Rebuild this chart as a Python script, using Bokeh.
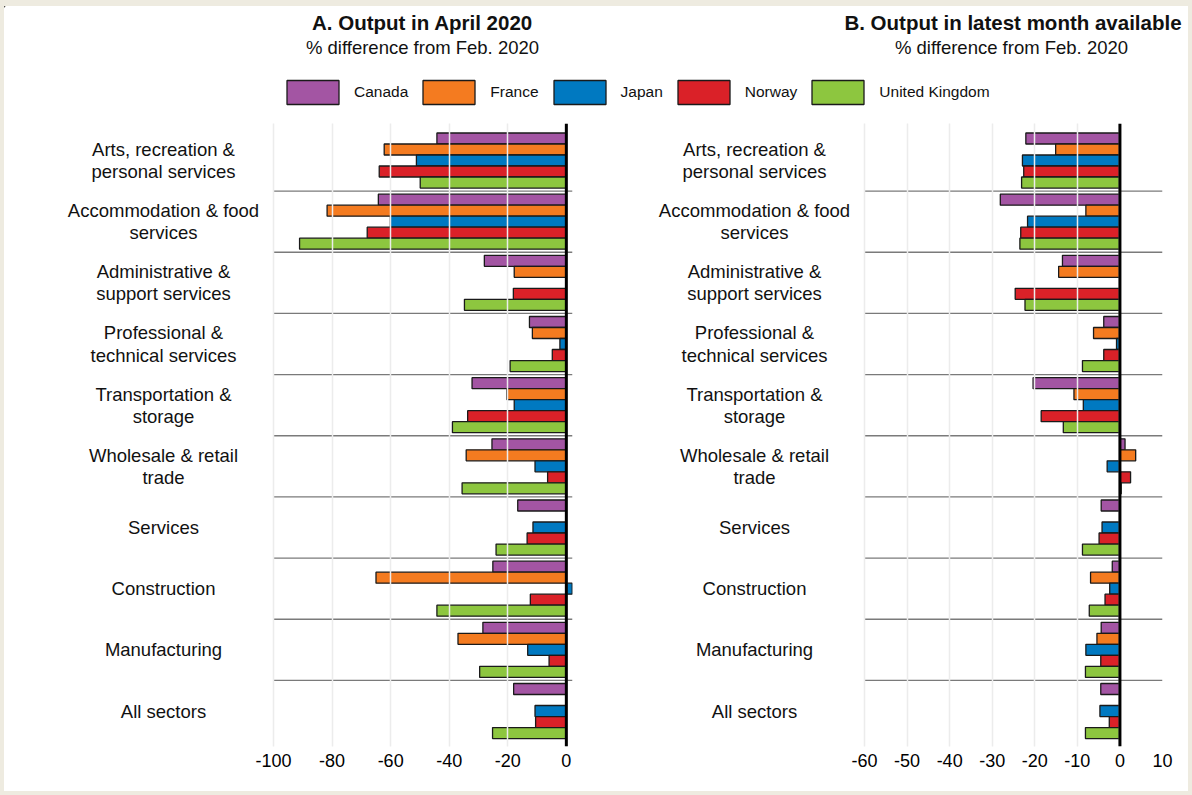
from bokeh.plotting import figure
from bokeh.models import Range1d, FixedTicker, Span, Legend, LegendItem, Spacer
from bokeh.layouts import column, row
from bokeh.embed import file_html
from bokeh.resources import INLINE
from bokeh.core.properties import value

# ---------------- data ----------------
sectors = [
    "Arts, recreation &\npersonal services",
    "Accommodation & food\nservices",
    "Administrative &\nsupport services",
    "Professional &\ntechnical services",
    "Transportation &\nstorage",
    "Wholesale & retail\ntrade",
    "Services",
    "Construction",
    "Manufacturing",
    "All sectors",
]
countries = ["Canada", "France", "Japan", "Norway", "United Kingdom"]
colors = ["#a355a3", "#f47b20", "#0079c1", "#da2128", "#8dc63f"]
NA = None

april_canada = [-44.2, -64.2, -28.0, -12.6, -32.2, -25.4, -16.6, -25.1, -28.5, -18.0]
april_france = [-62.2, -81.7, -17.8, -11.6, -20.3, -34.2, NA, -65.0, -37.0, NA]
april_japan = [-51.2, -60.1, NA, -2.2, -17.8, -10.7, -11.4, 2.0, -13.2, -10.7]
april_norway = [-63.9, -68.0, -18.1, -4.8, -33.7, -6.4, -13.4, -12.3, -5.9, -10.5]
april_uk = [-49.9, -91.1, -34.8, -19.2, -38.9, -35.6, -24.0, -44.2, -29.6, -25.2]

latest_canada = [-22.1, -28.1, -13.5, -3.8, -20.4, 1.2, -4.4, -1.8, -4.4, -4.5]
latest_france = [-15.1, -8.0, -14.4, -6.2, -10.8, 3.7, NA, -6.9, -5.4, NA]
latest_japan = [-22.9, -21.7, NA, -0.8, -8.6, -3.0, -4.2, -2.4, -8.0, -4.7]
latest_norway = [-22.6, -23.3, -24.6, -3.8, -18.5, 2.5, -4.9, -3.5, -4.5, -2.5]
latest_uk = [-23.1, -23.5, -22.3, -8.8, -13.3, 0.3, -8.8, -7.2, -8.1, -8.1]

ticks_a = [-100, -80, -60, -40, -20, 0]
ticks_b = [-60, -50, -40, -30, -20, -10, 0, 10]

title_a = "A. Output in April 2020"
title_b = "B. Output in latest month available"
subtitle = "% difference from Feb. 2020"

# ---------------- styling ----------------
FONT = "Liberation Sans"
BEIGE = "#eeebe0"
FRAME_H = 623
BOTTOM = 45
HDR_H = 117
N = len(sectors)
yr = Range1d(-0.08, 10.105)
offsets = [0.36, 0.18, 0.0, -0.18, -0.36]
BAR_H = 0.18


def panel(series, x0, x1, ticks, label_w, plot_w, right_border, label_px):
    """Frame = label area (label_w px) + plotting area (plot_w px, x0..x1)."""
    per_px = (x1 - x0) / plot_w
    xstart = x0 - label_w * per_px
    p = figure(width=label_w + plot_w + right_border, height=FRAME_H + BOTTOM,
               x_range=Range1d(xstart, x1), y_range=yr, output_backend="svg",
               title=None, toolbar_location=None, y_axis_location=None,
               min_border_left=0, min_border_right=right_border,
               min_border_top=0, min_border_bottom=BOTTOM)
    p.outline_line_color = None
    for vals, col, off in zip(series, colors, offsets):
        ys = [N - 1 - i + 0.5 + off for i, v in enumerate(vals) if v is not None]
        xs = [v for v in vals if v is not None]
        p.hbar(y=ys, right=xs, left=0, height=BAR_H, fill_color=col,
               line_color="#1a1a1a", line_width=1.3)
    seps = list(range(1, N))
    p.segment(x0=[x0] * len(seps), x1=[x1] * len(seps), y0=seps, y1=seps,
              line_color="#7a7a7a", line_width=1.3)
    p.add_layout(Span(location=0, dimension="height", line_color="black",
                      line_width=3))
    # category labels in the label area of the frame
    lx = xstart + label_px * per_px
    p.text(x=[lx] * N, y=[N - 1 - i + 0.5 for i in range(N)], text=sectors,
           text_align="center", text_baseline="middle", text_font=value(FONT),
           text_font_size="18.5px", text_color="#111111", text_line_height=1.05)
    p.xaxis.ticker = FixedTicker(ticks=ticks)
    p.xaxis.major_label_overrides = {t: str(t) for t in ticks}
    p.xaxis.axis_line_color = None
    p.xaxis.major_tick_line_color = None
    p.xaxis.minor_tick_line_color = None
    p.xaxis.major_tick_in = 0
    p.xaxis.major_tick_out = 0
    p.xaxis.major_label_standoff = 7
    p.xaxis.major_label_text_font = FONT
    p.xaxis.major_label_text_font_size = "18px"
    p.xaxis.major_label_text_color = "black"
    p.xgrid.ticker = FixedTicker(ticks=ticks)
    p.xgrid.grid_line_color = "#ececec"
    p.xgrid.grid_line_width = 1.5
    p.xgrid.level = "guide"
    p.ygrid.visible = False
    return p


# header with titles and legend (coordinates = pixels from its top-left)
hdr = figure(width=1184, height=HDR_H, x_range=Range1d(0, 1184),
             y_range=Range1d(HDR_H, 0), output_backend="svg", title=None,
             toolbar_location=None, x_axis_location=None, y_axis_location=None,
             min_border=0)
hdr.outline_line_color = None
hdr.grid.visible = False
hdr.text(x=[418, 1008.5], y=[16, 16], text=[title_a, title_b],
         text_align="center", text_baseline="middle",
         text_font=value(FONT), text_font_style="bold",
         text_font_size="20.5px", text_color="#111111")
hdr.text(x=[418, 1007], y=[40.5, 40.5], text=[subtitle, subtitle],
         text_align="center", text_baseline="middle",
         text_font=value(FONT), text_font_size="18.5px", text_color="#111111")

items = []
for name, col in zip(countries, colors):
    r = hdr.hbar(y=[-50], right=[-50], left=-60, height=1, fill_color=col,
                 line_color="#1a1a1a", line_width=1.3)
    items.append(LegendItem(label=name, renderers=[r]))
legend = Legend(items=items, orientation="horizontal", location=(276, 16),
                glyph_width=65, glyph_height=30, label_height=30,
                label_standoff=9, spacing=8, padding=0, margin=0,
                border_line_color=None, background_fill_alpha=0,
                label_text_font=FONT, label_text_font_size="15.5px",
                label_text_color="#111111")
hdr.add_layout(legend)

figA = panel([april_canada, april_france, april_japan, april_norway, april_uk],
             -100, 2.1, ticks_a, 269, 299, 72, 159)
figB = panel([latest_canada, latest_france, latest_japan, latest_norway, latest_uk],
             -60, 10, ticks_b, 220, 298, 26, 110)

bg = {"background-color": BEIGE}
content = column(hdr, row(figA, figB))
inner_h = HDR_H + FRAME_H + BOTTOM
layout = column(
    Spacer(width=1192, height=6, styles=bg),
    row(Spacer(width=4, height=inner_h, styles=bg), content,
        Spacer(width=4, height=inner_h, styles=bg)),
    Spacer(width=1192, height=4, styles=bg),
)

open("out.html", "w").write(file_html(layout, INLINE))
